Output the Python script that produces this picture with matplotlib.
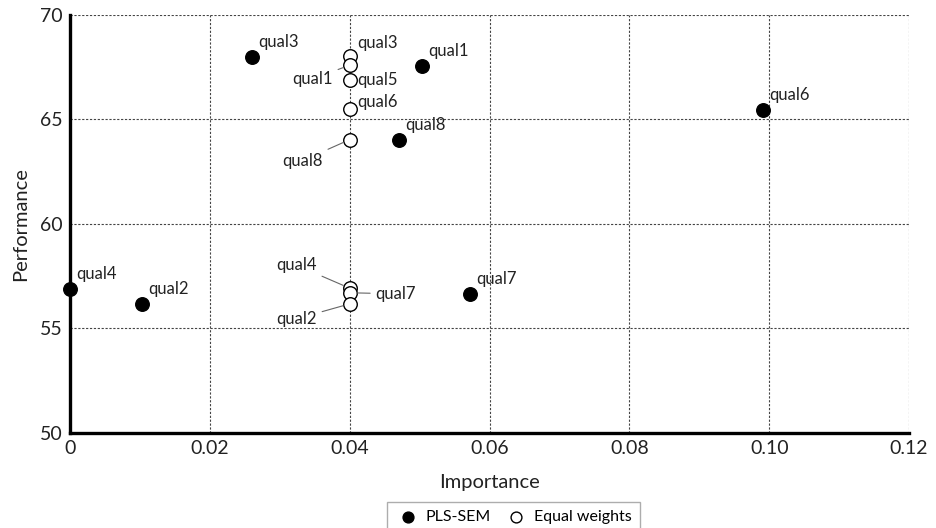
import matplotlib
matplotlib.use("Agg")
import matplotlib.pyplot as plt
from matplotlib.ticker import FixedLocator, FixedFormatter

plt.rcParams['font.family'] = ['Lato', 'DejaVu Sans']

# PLS-SEM (filled)
pls_labels = ["qual4", "qual2", "qual3", "qual1", "qual8", "qual7", "qual6"]
pls_importance = [0.0, 0.0103, 0.026, 0.0504, 0.0471, 0.0572, 0.0991]
pls_performance = [56.9, 56.15, 67.95, 67.55, 64.0, 56.65, 65.45]

# Equal weights (open)
eq_labels = ["qual3", "qual1", "qual5", "qual6", "qual8", "qual4", "qual7", "qual2"]
eq_importance = [0.04, 0.04, 0.04, 0.04, 0.04, 0.04, 0.04, 0.04]
eq_performance = [68.02, 67.58, 66.88, 65.47, 64.02, 56.92, 56.7, 56.17]

xticks = [0, 0.02, 0.04, 0.06, 0.08, 0.10, 0.12]
xtick_labels = ["0", "0.02", "0.04", "0.06", "0.08", "0.10", "0.12"]
yticks = [50, 55, 60, 65, 70]

# label placement (pixel offsets, alignment, leader line)
pls_offsets = [(6, 15)] * 7
eq_offsets = {
    "qual3": ((8, 13), "left", False),
    "qual1": ((-17, -14), "right", True),
    "qual5": ((8, 0), "left", False),
    "qual6": ((8, 7), "left", False),
    "qual8": ((-27, -21), "right", True),
    "qual4": ((-33, 23), "right", True),
    "qual7": ((26, -1), "left", True),
    "qual2": ((-33, -15), "right", True),
}

fig = plt.figure(figsize=(9.36, 5.28), dpi=100)
ax = fig.add_axes([0.0748, 0.18, 0.8964, 0.7925])

ax.set_xlim(0, 0.12)
ax.set_ylim(50, 70)

ax.xaxis.set_major_locator(FixedLocator(xticks))
ax.xaxis.set_major_formatter(FixedFormatter(xtick_labels))
ax.yaxis.set_major_locator(FixedLocator(yticks))
ax.tick_params(axis='both', length=0, labelsize=14, pad=5, colors='#222222')

ax.grid(True, color='#444444', linestyle=(0, (2, 1.5)), linewidth=0.8)
ax.set_axisbelow(True)
for s in ['top', 'right']:
    ax.spines[s].set_visible(False)
for s in ['left', 'bottom']:
    ax.spines[s].set_linewidth(2.4)
    ax.spines[s].set_color('black')
    ax.spines[s].set_zorder(5)

ax.scatter(pls_importance, pls_performance, s=95, color='black', zorder=6,
           label='PLS-SEM', clip_on=False)
ax.scatter(eq_importance, eq_performance, s=95, facecolor='white',
           edgecolor='black', linewidth=1.0, zorder=7, label='Equal weights',
           clip_on=False)

for lab, x, y, off in zip(pls_labels, pls_importance, pls_performance, pls_offsets):
    ax.annotate(lab, (x, y), xytext=off, textcoords='offset pixels',
                ha='left', va='center', fontsize=12, color='#222222', zorder=8)

for lab, x, y in zip(eq_labels, eq_importance, eq_performance):
    off, ha, line = eq_offsets[lab]
    kw = {}
    if line:
        kw['arrowprops'] = dict(arrowstyle='-', color='#666666', lw=0.8,
                                shrinkA=2, shrinkB=5)
    ax.annotate(lab, (x, y), xytext=off, textcoords='offset pixels',
                ha=ha, va='center', fontsize=12, color='#222222', zorder=8, **kw)

ax.set_xlabel("Importance", fontsize=14.5, color='#222222', labelpad=12)
ax.set_ylabel("Performance", fontsize=14.5, color='#222222', labelpad=8)

leg = fig.legend(loc='upper center', bbox_to_anchor=(0.5486, 0.0492), ncol=2,
                 frameon=True, fancybox=False, fontsize=11.5, handletextpad=0.3,
                 handlelength=1.6, columnspacing=0.8, borderpad=0.5,
                 borderaxespad=0, markerscale=0.8)
leg.get_frame().set_edgecolor('#999999')
leg.get_frame().set_linewidth(1.0)

fig.savefig("out.png", dpi=100)
